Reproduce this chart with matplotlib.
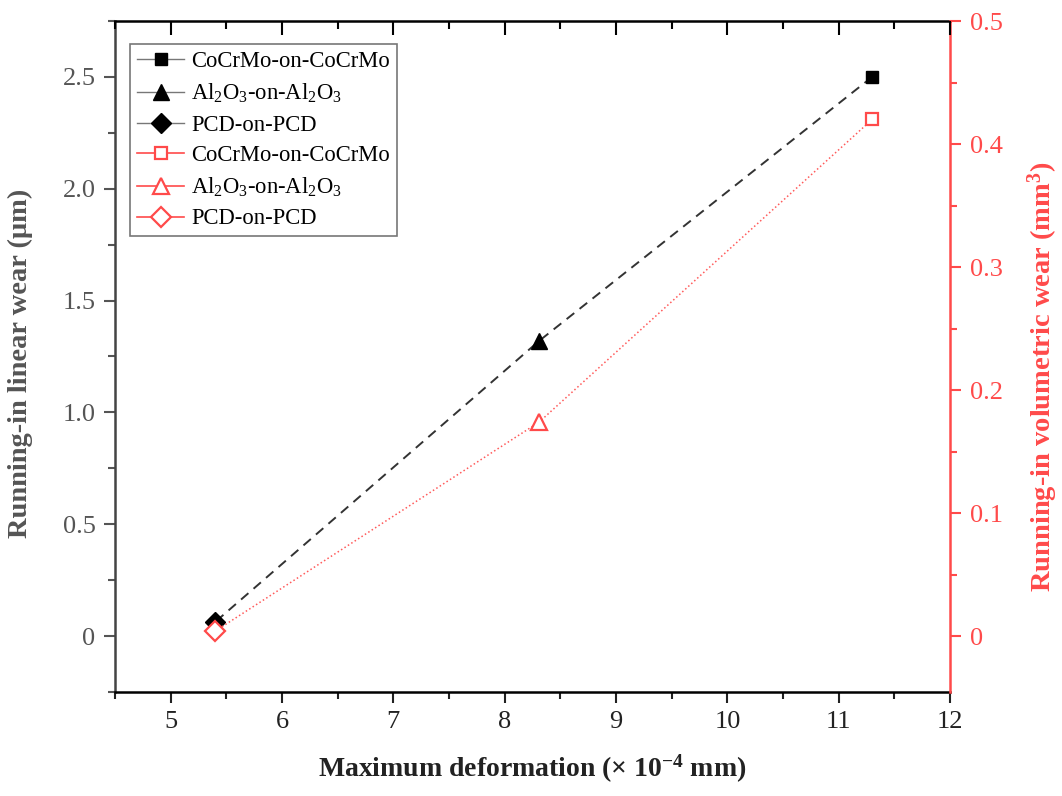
import matplotlib
matplotlib.use("Agg")
import matplotlib.pyplot as plt
from matplotlib.ticker import MultipleLocator

plt.rcParams['font.family'] = ['Liberation Serif', 'DejaVu Serif']
plt.rcParams['mathtext.fontset'] = 'custom'
plt.rcParams['mathtext.rm'] = 'Liberation Serif'
plt.rcParams['mathtext.it'] = 'Liberation Serif:italic'
plt.rcParams['mathtext.bf'] = 'Liberation Serif:bold'

# pairings and their measured values
pairs = ["CoCrMo-on-CoCrMo", "Al$_2$O$_3$-on-Al$_2$O$_3$", "PCD-on-PCD"]
deformation = [11.3, 8.31, 5.4]          # x 10^-4 mm
linear_wear = [2.5, 1.32, 0.063]         # um
volumetric_wear = [0.42, 0.174, 0.004]   # mm^3
markers = ['s', '^', 'D']
msizes = [9, 11, 10]

GRAY = '#555555'
RED = '#ff4a4a'
XLIM = (4.5, 12)
AX_H = 0.8429 * 7.96 * 100   # axes height in pixels

fig = plt.figure(figsize=(10.62, 7.96), dpi=100)
ax = fig.add_axes([0.1083, 0.1307, 0.7863, 0.8429])
ax2 = ax.twinx()

# connecting lines
ax.plot(deformation, linear_wear, ls=(0, (5, 3.5)), color='#333333', lw=1.4, zorder=2)
ax2.plot(deformation, volumetric_wear, ls=':', color='#ff5a5a', lw=1.1, zorder=2)

handles = []
for name, x, y, m, ms in zip(pairs, deformation, linear_wear, markers, msizes):
    h, = ax.plot([x], [y], marker=m, ms=ms, color='black', ls='-', lw=1.0,
                 label=name, zorder=4)
    handles.append(h)
for name, x, y, m, ms in zip(pairs, deformation, volumetric_wear, markers, msizes):
    h, = ax2.plot([x], [y], marker=m, ms=ms, color=RED, mfc='white', mec=RED,
                  mew=1.6, ls='-', lw=1.2, label=name, zorder=3)
    handles.append(h)

# legend lives on the twin so it sits above both sets of marks
leg = ax2.legend(handles=handles, loc='upper left', bbox_to_anchor=(0.018, 0.965),
                 fontsize=16.3, frameon=True, fancybox=False, edgecolor='#555555',
                 handlelength=2.1, handletextpad=0.3, labelspacing=0.42,
                 borderpad=0.3, borderaxespad=0)
leg.get_frame().set_linewidth(1.2)
for line in leg.get_lines()[:3]:
    line.set_color('#777777')
    line.set_markerfacecolor('black')
    line.set_markeredgecolor('black')

ax.set_xlim(*XLIM)
ax.set_ylim(-0.25, 2.75)
ax2.set_ylim(-0.25 / 5.5, 0.5)

ax.xaxis.set_major_locator(MultipleLocator(1))
ax.xaxis.set_minor_locator(MultipleLocator(0.5))
ax.yaxis.set_minor_locator(MultipleLocator(0.25))
ax2.yaxis.set_minor_locator(MultipleLocator(0.05))

ax.set_yticks([0, 0.5, 1.0, 1.5, 2.0, 2.5])
ax.set_yticklabels(['0', '0.5', '1.0', '1.5', '2.0', '2.5'])
ax2.set_yticks([0, 0.1, 0.2, 0.3, 0.4, 0.5])
ax2.set_yticklabels(['0', '0.1', '0.2', '0.3', '0.4', '0.5'])

ax.tick_params(axis='x', which='both', direction='out', width=1.5, colors='#222222',
               labelsize=19)
ax.tick_params(axis='x', which='major', length=8, pad=6)
ax.tick_params(axis='x', which='minor', length=5)
ax.tick_params(axis='y', which='both', direction='out', width=1.5, colors=GRAY,
               labelsize=19)
ax.tick_params(axis='y', which='major', length=8, pad=6)
ax.tick_params(axis='y', which='minor', length=5)
ax2.tick_params(axis='y', which='both', direction='out', width=1.5, colors=RED,
                labelsize=19)
ax2.tick_params(axis='y', which='major', length=8, pad=6)
ax2.tick_params(axis='y', which='minor', length=5)

# inward ticks along the top spine, at the same places as the bottom ticks
trans = ax2.get_xaxis_transform()
major_locs = [v for v in MultipleLocator(1).tick_values(*XLIM) if XLIM[0] <= v <= XLIM[1]]
minor_locs = [v + 0.5 for v in major_locs[:-1]] + [XLIM[0]]
ax2.vlines(major_locs, 1 - 14 / AX_H, 1, transform=trans, colors='black',
           lw=1.5, clip_on=False, zorder=6)
ax2.vlines(minor_locs, 1 - 8 / AX_H, 1, transform=trans, colors='black',
           lw=1.5, clip_on=False, zorder=6)

for s in ['top', 'bottom']:
    ax.spines[s].set_color('black')
    ax.spines[s].set_linewidth(1.8)
ax.spines['left'].set_color('#444444')
ax.spines['left'].set_linewidth(1.8)
ax.spines['right'].set_visible(False)
ax2.spines['right'].set_color(RED)
ax2.spines['right'].set_linewidth(1.8)
for s in ['top', 'bottom', 'left']:
    ax2.spines[s].set_visible(False)

ax.set_xlabel('Maximum deformation (× 10$^{\\mathbf{-4}}$ mm)', fontsize=20,
              fontweight='bold', color='#222222', labelpad=14)
ax.set_ylabel('Running-in linear wear (μm)', fontsize=20.5, fontweight='bold',
              color=GRAY)
ax.yaxis.set_label_coords(-0.098, 0.49)
ax2.set_ylabel('Running-in volumetric wear (mm$^{\\mathbf{3}}$)', fontsize=20.5,
               fontweight='bold', color=RED)
ax2.yaxis.set_label_coords(1.09, 0.47)

fig.savefig('out.png', dpi=100)
